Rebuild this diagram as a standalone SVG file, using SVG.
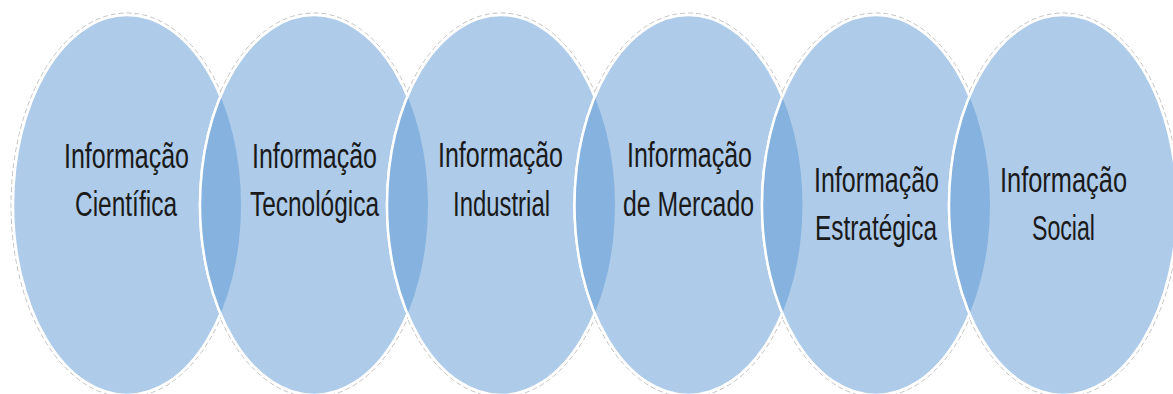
<svg xmlns="http://www.w3.org/2000/svg" width="1173" height="394" viewBox="0 0 1173 394">
<style>
.f{fill:#AECBE9}
.s{fill:none;stroke:#fff;stroke-width:2.5}
.sh{fill:none;stroke:#9a9a9a;stroke-width:1;stroke-dasharray:5 3;opacity:0.6}
.lens{fill:#85B2DE}
text{font-family:"Liberation Sans",Arial,sans-serif;font-size:35px;fill:#1a1a1a;text-anchor:middle}
</style>
<defs>
<clipPath id="c1"><ellipse cx="127" cy="205" rx="114" ry="190"/></clipPath>
<clipPath id="c2"><ellipse cx="314" cy="205" rx="114" ry="190"/></clipPath>
<clipPath id="c3"><ellipse cx="501" cy="205" rx="114" ry="190"/></clipPath>
<clipPath id="c4"><ellipse cx="688.5" cy="205" rx="114" ry="190"/></clipPath>
<clipPath id="c5"><ellipse cx="876" cy="205" rx="114" ry="190"/></clipPath>
<clipPath id="c6"><ellipse cx="1063" cy="205" rx="114" ry="190"/></clipPath>
</defs>
<rect width="1173" height="394" fill="#fff"/>
<g id="shadows">
<ellipse class="sh" cx="127" cy="205" rx="116" ry="192"/>
<ellipse class="sh" cx="314" cy="205" rx="116" ry="192"/>
<ellipse class="sh" cx="501" cy="205" rx="116" ry="192"/>
<ellipse class="sh" cx="688.5" cy="205" rx="116" ry="192"/>
<ellipse class="sh" cx="876" cy="205" rx="116" ry="192"/>
<ellipse class="sh" cx="1063" cy="205" rx="116" ry="192"/>
</g>
<g id="connectors"></g>
<g id="n1">
<ellipse class="f" cx="127" cy="205" rx="114" ry="190"/>
<ellipse class="s" cx="127" cy="205" rx="114" ry="190"/>
<text x="126.5" y="168" textLength="125" lengthAdjust="spacingAndGlyphs">Informação</text>
<text x="126" y="216" textLength="102" lengthAdjust="spacingAndGlyphs">Científica</text>
</g>
<g id="n2">
<ellipse class="f" cx="314" cy="205" rx="114" ry="190"/>
<ellipse class="s" cx="314" cy="205" rx="114" ry="190"/>
<ellipse class="lens" cx="127" cy="205" rx="114" ry="190" clip-path="url(#c2)"/>
<ellipse class="s" cx="314" cy="205" rx="114" ry="190" clip-path="url(#c1)"/>
<text x="314.5" y="168" textLength="125" lengthAdjust="spacingAndGlyphs">Informação</text>
<text x="314.5" y="216" textLength="129" lengthAdjust="spacingAndGlyphs">Tecnológica</text>
</g>
<g id="n3">
<ellipse class="f" cx="501" cy="205" rx="114" ry="190"/>
<ellipse class="s" cx="501" cy="205" rx="114" ry="190"/>
<ellipse class="lens" cx="314" cy="205" rx="114" ry="190" clip-path="url(#c3)"/>
<ellipse class="s" cx="501" cy="205" rx="114" ry="190" clip-path="url(#c2)"/>
<text x="500.5" y="167" textLength="125" lengthAdjust="spacingAndGlyphs">Informação</text>
<text x="501.5" y="216" textLength="97" lengthAdjust="spacingAndGlyphs">Industrial</text>
</g>
<g id="n4">
<ellipse class="f" cx="688.5" cy="205" rx="114" ry="190"/>
<ellipse class="s" cx="688.5" cy="205" rx="114" ry="190"/>
<ellipse class="lens" cx="501" cy="205" rx="114" ry="190" clip-path="url(#c4)"/>
<ellipse class="s" cx="688.5" cy="205" rx="114" ry="190" clip-path="url(#c3)"/>
<text x="689.5" y="167" textLength="125" lengthAdjust="spacingAndGlyphs">Informação</text>
<text x="688.5" y="216" textLength="131" lengthAdjust="spacingAndGlyphs">de Mercado</text>
</g>
<g id="n5">
<ellipse class="f" cx="876" cy="205" rx="114" ry="190"/>
<ellipse class="s" cx="876" cy="205" rx="114" ry="190"/>
<ellipse class="lens" cx="688.5" cy="205" rx="114" ry="190" clip-path="url(#c5)"/>
<ellipse class="s" cx="876" cy="205" rx="114" ry="190" clip-path="url(#c4)"/>
<text x="876.5" y="192" textLength="125" lengthAdjust="spacingAndGlyphs">Informação</text>
<text x="876" y="240" textLength="122" lengthAdjust="spacingAndGlyphs">Estratégica</text>
</g>
<g id="n6">
<ellipse class="f" cx="1063" cy="205" rx="114" ry="190"/>
<ellipse class="s" cx="1063" cy="205" rx="114" ry="190"/>
<ellipse class="lens" cx="876" cy="205" rx="114" ry="190" clip-path="url(#c6)"/>
<ellipse class="s" cx="1063" cy="205" rx="114" ry="190" clip-path="url(#c5)"/>
<text x="1063.5" y="192" textLength="127" lengthAdjust="spacingAndGlyphs">Informação</text>
<text x="1063.5" y="240" textLength="63" lengthAdjust="spacingAndGlyphs">Social</text>
</g>
</svg>
